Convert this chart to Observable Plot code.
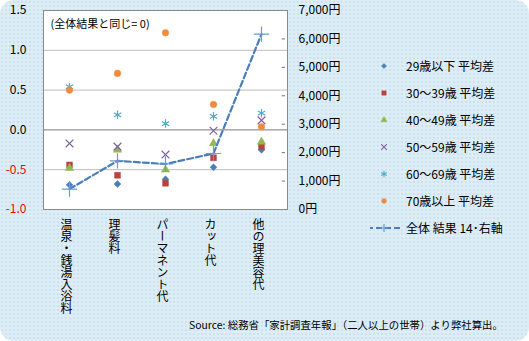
<!DOCTYPE html>
<html><head><meta charset="utf-8">
<script src="https://cdn.jsdelivr.net/npm/d3@7"></script>
<script src="https://cdn.jsdelivr.net/npm/@observablehq/plot@0.6"></script>
<style>
html,body{margin:0;padding:0;background:#fff;}
#wrap{position:relative;width:529px;height:341px;border-radius:14px;overflow:hidden;
 background-color:#dcedf5;
 background-image:radial-gradient(circle,#c4d9ee 0.6px,transparent 0.9px);
 background-size:4px 4px;
 font-family:'Noto Sans CJK JP','Noto Sans',sans-serif;}
#legend{position:absolute;left:370px;top:52px;font-size:12px;color:#000;}
#legend .row{height:27px;display:flex;align-items:center;}
#legend svg{width:36px;height:14px;flex:none;}
#legend span{white-space:nowrap;}
#source{position:absolute;left:189px;top:317px;font-size:10.4px;white-space:nowrap;color:#000;}
text.vert{writing-mode:vertical-rl;text-orientation:mixed;}
</style></head>
<body><div id="wrap"><div id="chart"></div><div id="legend"></div><div id="source">Source: 総務省「家計調査年報」（二人以上の世帯）より弊社算出。</div></div>
<script>
const categories = ["温泉・銭湯入浴料","理髪料","パーマネント代","カット代","他の理美容代"];
const age29 = [-0.69,-0.68,-0.62,-0.47,-0.25];
const age30 = [-0.44,-0.57,-0.67,-0.35,-0.21];
const age40 = [-0.48,-0.25,-0.50,-0.17,-0.15];
const age50 = [-0.17,-0.21,-0.31,-0.01,0.12];
const age60 = [0.54,0.19,0.08,0.17,0.21];
const age70 = [0.50,0.71,1.22,0.32,0.04];
const totalYen = [720,1710,1600,1970,6170];
const seriesNames = ["29歳以下 平均差","30～39歳 平均差","40～49歳 平均差","50～59歳 平均差","60～69歳 平均差","70歳以上 平均差"];
const lineName = "全体 結果 14･右軸";
const leftTicks = [-1.0,-0.5,0.0,0.5,1.0,1.5];
const rightTicks = [0,1000,2000,3000,4000,5000,6000,7000];
const note = "(全体結果と同じ= 0)";

const seriesVals = [age29,age30,age40,age50,age60,age70];
const styles = [
  {symbol:"diamond2", color:"#4a7ebb", r:3.1},
  {symbol:"square", color:"#b8433f", r:3.3},
  {symbol:"triangle", color:"#95b653", r:3.1},
  {symbol:"times", color:"#8064a2", r:3.6},
  {symbol:"asterisk", color:"#4bacc6", r:4},
  {symbol:"circle", color:"#f08a3c", r:3.3}
];
const lineColor = "#4a7ebb";
const yenToLeft = v => -1 + v*2.5/7000;
const leftToYen = d => Math.round((d+1)/2.5*7000);

const dotMarks = seriesVals.map((vals,i) => {
  const data = categories.map((c,j)=>({c, v: vals[j]}));
  const s = styles[i];
  const filled = s.symbol!=="times" && s.symbol!=="asterisk";
  return Plot.dot(data, {x:"c", y:"v", symbol: ()=>s.symbol, r:s.r,
    fill: filled ? s.color : "none", stroke: s.color, strokeWidth: filled?0.5:1.2});
});
const lineData = categories.map((c,j)=>({c, v: yenToLeft(totalYen[j])}));

const plot = Plot.plot({
  width:529, height:341,
  marginLeft:43, marginRight:242, marginTop:10, marginBottom:132,
  style:{fontFamily:"'Noto Sans CJK JP','Noto Sans',sans-serif", fontSize:"12px", background:"transparent", overflow:"visible"},
  x:{type:"band", domain:categories, padding:0, axis:null},
  y:{domain:[-1,1.5], axis:null, label:null},
  symbol:{type:"identity"},
  marks:[
    Plot.frame({fill:"white", stroke:"none"}),
    Plot.ruleY([-0.5,0.5,1.0], {stroke:"#bdbdbd", strokeWidth:1}),
    Plot.ruleY([0], {stroke:"#7a7a7a", strokeWidth:1}),
    Plot.tickY(rightTicks.slice(1,-1).map(yenToLeft), {x: ()=>categories[4], insetLeft:44.6, stroke:"#777", strokeWidth:1}),
    Plot.axisY(leftTicks.filter(d=>d>=0), {anchor:"left", label:null, tickSize:0, tickPadding:17, tickFormat:d=>d.toFixed(1), fill:"#000", fontSize:12}),
    Plot.axisY(leftTicks.filter(d=>d<0), {anchor:"left", label:null, tickSize:0, tickPadding:17, tickFormat:d=>d.toFixed(1), fill:"#ff0000", fontSize:12}),
    Plot.axisY(rightTicks.map(yenToLeft), {anchor:"right", label:null, tickSize:0, tickPadding:11, textAnchor:"start",
      tickFormat:d=>d3.format(",")(leftToYen(d))+"円", fill:"#000", fontSize:12}),
    Plot.text(categories, {x:d=>d, frameAnchor:"bottom", dy:9, dx:-3, text:d=>d, fontSize:12, fill:"#000"}),
    Plot.text([note], {frameAnchor:"top-left", dx:7, dy:10, text:d=>d, fontSize:11, fill:"#000", textAnchor:"start"}),
    ...dotMarks,
    Plot.line(lineData, {x:"c", y:"v", stroke:lineColor, strokeWidth:2.2, strokeDasharray:"6,3"}),
    Plot.dot(lineData, {x:"c", y:"v", symbol:()=>"plus", r:5, stroke:"#6a9ad0", strokeWidth:1.2}),
    Plot.frame({stroke:"#8a8a8a", strokeWidth:1})
  ]
});
document.getElementById("chart").appendChild(plot);
plot.querySelectorAll('text').forEach(t=>{
  if (categories.includes(t.textContent)) {
    t.removeAttribute("dy");
    t.setAttribute("text-anchor","start");
    t.setAttribute("writing-mode","tb");
    t.classList.add("vert");
    t.style.writingMode = "vertical-rl";
    t.parentNode && t.parentNode.setAttribute("text-anchor","start");
  }
});

// legend
const leg = document.getElementById("legend");
function symSvg(s){
  const ns="http://www.w3.org/2000/svg";
  const svg=document.createElementNS(ns,"svg");
  const p=document.createElementNS(ns,"path");
  const size = Math.PI*s.r*s.r*0.55;
  const typ = {diamond2:d3.symbolDiamond2, square:d3.symbolSquare, triangle:d3.symbolTriangle, times:d3.symbolTimes, asterisk:d3.symbolAsterisk, circle:d3.symbolCircle}[s.symbol];
  p.setAttribute("d", d3.symbol(typ, size)());
  p.setAttribute("transform","translate(14,7)");
  const filled = s.symbol!=="times" && s.symbol!=="asterisk";
  p.setAttribute("fill", filled? s.color : "none");
  p.setAttribute("stroke", s.color);
  p.setAttribute("stroke-width", filled?0.5:1.1);
  svg.appendChild(p);
  return svg;
}
seriesNames.forEach((n,i)=>{
  const row=document.createElement("div"); row.className="row";
  row.appendChild(symSvg(styles[i]));
  const sp=document.createElement("span"); sp.textContent=n; row.appendChild(sp);
  leg.appendChild(row);
});
{
  const row=document.createElement("div"); row.className="row";
  row.innerHTML = `<svg viewBox="0 0 36 14"><line x1="-3" y1="7" x2="32" y2="7" stroke="${lineColor}" stroke-width="2.2" stroke-dasharray="6,3"/><path d="M10,7h8M14,3v8" stroke="#6a9ad0" stroke-width="1.2"/></svg>`;
  const sp=document.createElement("span"); sp.textContent=lineName; row.appendChild(sp);
  leg.appendChild(row);
}
</script></body></html>
